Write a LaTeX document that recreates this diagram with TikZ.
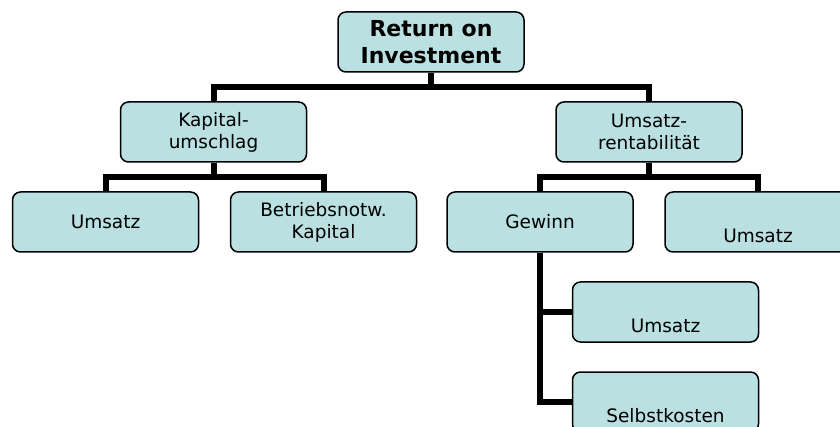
\documentclass[tikz,border=0pt]{standalone}
\usepackage{fontspec}
\setmainfont{DejaVu Sans}
\definecolor{boxfill}{RGB}{186,224,226}
\pgfdeclarelayer{paper}
\pgfdeclarelayer{links}
\pgfsetlayers{paper,links,main}
\begin{document}
\begin{tikzpicture}[x=1pt,y=-1pt,
  box/.style={draw=black, line width=1.5pt, fill=boxfill, rounded corners=8pt,
    minimum width=186pt, minimum height=60pt, inner sep=2pt, align=center,
    font=\fontsize{18.5}{22}\selectfont},
  lowtext/.style={text height=41pt, text depth=0pt},
  title/.style={font=\fontsize{22}{27}\selectfont\bfseries},
  link/.style={line width=6pt, draw=black}]
  \useasboundingbox (0,0) rectangle (840,427);
  \clip (0,0) rectangle (840,427);
  \begin{pgfonlayer}{paper}
    \fill[white] (0,0) rectangle (840,427);
  \end{pgfonlayer}

  % levels of the horizontal bars
  \coordinate (barA) at (0,87);
  \coordinate (barB) at (0,177.5);

  % boxes
  \node[box, title] (roi) at (431,42) {Return on\\Investment};
  \node[box] (kap) at (213.5,132) {Kapital-\\umschlag};
  \node[box] (rent) at (649,132) {Umsatz-\\rentabilität};
  \node[box] (umsL) at (105.5,222) {Umsatz};
  \node[box] (betr) at (323.5,222) {Betriebsnotw.\\Kapital};
  \node[box] (gew) at (540,222) {Gewinn};
  \node[box, lowtext] (umsR) at (758,222) {Umsatz};
  \node[box, lowtext] (umsU) at (665.5,312) {Umsatz};
  \node[box, lowtext] (selb) at (665.5,402) {Selbstkosten};

  % connectors, kept behind the boxes
  \begin{pgfonlayer}{links}
    \draw[link] (roi.south) -- (roi.south |- barA) -| (kap.north);
    \draw[link] (roi.south |- barA) -| (rent.north);
    \draw[link] (kap.south) -- (kap.south |- barB) -| (umsL.north);
    \draw[link] (kap.south |- barB) -| (betr.north);
    \draw[link] (rent.south) -- (rent.south |- barB) -| (gew.north);
    \draw[link] (rent.south |- barB) -| (umsR.north);
    \draw[link] (gew.south) |- (umsU.west);
    \draw[link] (gew.south) |- (selb.west);
  \end{pgfonlayer}
\end{tikzpicture}
\end{document}
